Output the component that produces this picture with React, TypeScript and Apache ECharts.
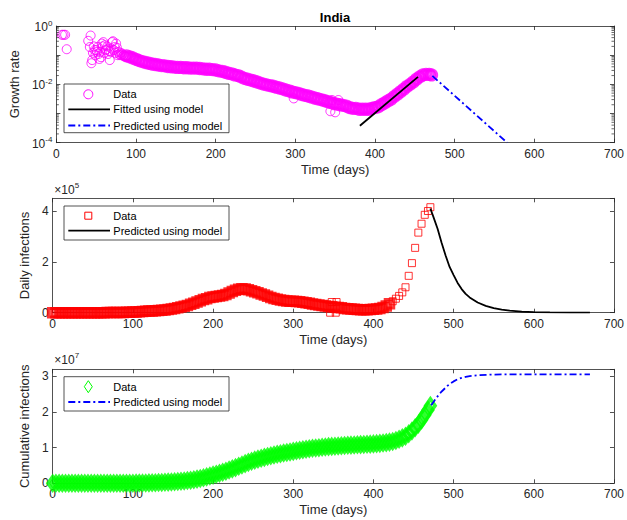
import React, { useEffect, useRef } from 'react';
import * as echarts from 'echarts';

// ---------- data ----------
const days = [
  0, 4, 8, 12, 16, 20, 24, 28, 32, 36, 40, 44, 48, 52, 56, 60, 64, 68, 72, 76,
  80, 84, 88, 92, 96, 100, 104, 108, 112, 116, 120, 124, 128, 132, 136, 140, 144, 148, 152, 156,
  160, 164, 168, 172, 176, 180, 184, 188, 192, 196, 200, 204, 208, 212, 216, 220, 224, 228, 232, 236,
  240, 244, 248, 252, 256, 260, 264, 268, 272, 276, 280, 284, 288, 292, 296, 300, 304, 308, 312, 316,
  320, 324, 328, 332, 336, 340, 344, 348, 352, 356, 360, 364, 368, 372, 376, 380, 384, 388, 392, 396,
  400, 404, 408, 412, 416, 420, 424, 428, 432, 436, 440, 444, 448, 452, 456, 460, 464, 468, 471,
];

const dailyCases = [
  0, 0, 0, 0, 0, 0, 0, 0, 0, 0,
  0, 0, 0, 0, 0, 100, 200, 300, 500, 600,
  800, 1000, 1200, 1600, 2000, 2500, 3000, 3700, 4500, 5500,
  6200, 7000, 8000, 9000, 10000, 11000, 13000, 15000, 17000, 19000,
  22000, 25000, 28000, 33000, 37000, 42000, 47000, 52000, 55000, 60000,
  62000, 64000, 66000, 68000, 72000, 77000, 83000, 88000, 92000, 94000,
  93000, 90000, 86000, 82000, 78000, 74000, 70000, 65000, 60000, 56000,
  53000, 50000, 48000, 46000, 45000, 45000, 44000, 43000, 41000, 39000,
  37000, 34000, 32000, 30000, 28000, 26000, 24000, 23000, 21000, 20000,
  19000, 17000, 16000, 15000, 14000, 13000, 12000, 12000, 12000, 13000,
  14000, 15000, 17000, 20000, 26000, 35000, 45000, 55000, 66000, 80000,
  100000, 145000, 195000, 255000, 315000, 350000, 385000, 400000, 415000,
];

const cumulativeCases = [
  0, 0, 0, 0, 0, 0, 0, 0, 0, 0,
  10, 30, 40, 80, 120, 400, 700, 1200, 2500, 4400,
  7400, 10800, 15000, 20000, 28000, 37000, 49000, 62000, 78000, 96000,
  118000, 145000, 173000, 207000, 246000, 287000, 330000, 380000, 440000, 510000,
  585000, 670000, 770000, 870000, 1000000, 1170000, 1360000, 1570000, 1800000, 2040000,
  2300000, 2550000, 2810000, 3090000, 3390000, 3710000, 4050000, 4400000, 4780000, 5150000,
  5520000, 5880000, 6200000, 6500000, 6780000, 7040000, 7280000, 7520000, 7740000, 7950000,
  8140000, 8320000, 8490000, 8650000, 8810000, 8970000, 9130000, 9290000, 9440000, 9570000,
  9700000, 9830000, 9930000, 10000000, 10100000, 10200000, 10290000, 10360000, 10420000, 10480000,
  10540000, 10600000, 10660000, 10710000, 10770000, 10820000, 10860000, 10900000, 10940000, 10990000,
  11060000, 11130000, 11210000, 11300000, 11420000, 11560000, 11750000, 12000000, 12350000, 12750000,
  13200000, 13900000, 14700000, 15600000, 16600000, 17800000, 19200000, 20600000, 21800000,
];

// growth rate: main band from day 88 on (same day grid)
const growthBandDays = days.slice(22);
const growthBandRates = [
  0.095, 0.088, 0.08, 0.072, 0.065, 0.06, 0.056, 0.053, 0.05, 0.048,
  0.046, 0.044, 0.043, 0.041, 0.04, 0.039, 0.038, 0.038, 0.037, 0.037,
  0.036, 0.036, 0.036, 0.035, 0.034, 0.033, 0.033, 0.032, 0.031, 0.029,
  0.028, 0.026, 0.024, 0.023, 0.021, 0.02, 0.018, 0.016, 0.015, 0.014,
  0.013, 0.012, 0.011, 0.0102, 0.0096, 0.0091, 0.0086, 0.008, 0.0075, 0.007,
  0.0064, 0.006, 0.0055, 0.0052, 0.0049, 0.0045, 0.0042, 0.004, 0.0037, 0.0034,
  0.0032, 0.003, 0.0028, 0.0026, 0.0024, 0.0022, 0.0021, 0.002, 0.0019, 0.0018,
  0.0016, 0.0015, 0.0015, 0.0014, 0.0014, 0.0014, 0.0014, 0.0015, 0.0016, 0.0017,
  0.002, 0.0023, 0.0027, 0.0031, 0.0038, 0.0046, 0.0056, 0.0068, 0.0084, 0.01,
  0.012, 0.015, 0.018, 0.021, 0.022, 0.022, 0.021,
];
// early scattered growth-rate points
const growthEarlyDays = [
  7, 9, 11, 13, 40, 42, 43, 44, 45, 46, 47, 48, 49, 50, 51, 52, 53, 54, 55, 56,
  57, 58, 59, 60, 61, 62, 63, 64, 65, 66, 67, 68, 69, 70, 71, 72, 73, 74, 75, 76,
  77, 78, 79, 80, 81, 82, 83, 84, 85, 86, 87,
];
const growthEarlyRates = [
  0.5, 0.5, 0.5, 0.16, 0.31, 0.19, 0.47, 0.053, 0.068, 0.12, 0.2, 0.15, 0.1, 0.15, 0.13, 0.19, 0.11, 0.074, 0.13, 0.085,
  0.25, 0.2, 0.28, 0.12, 0.22, 0.15, 0.16, 0.2, 0.11, 0.14, 0.068, 0.13, 0.17, 0.28, 0.3, 0.15, 0.19, 0.12, 0.25, 0.18,
  0.1, 0.13, 0.11, 0.1, 0.12, 0.1, 0.11, 0.095, 0.1, 0.09, 0.09,
];
const growthOutlierDays = [298, 344, 346, 350, 354];
const growthOutlierRates = [0.0033, 0.0012, 0.0029, 0.0011, 0.0029];

const dailyOutlierDays = [346, 348, 353, 354];
const dailyOutlierCases = [0, 42000, 0, 42000];

const fittedDays = [381, 454];
const fittedRates = [0.00038, 0.018];
const predictedRateDays = [472, 566];
const predictedRates = [0.0195, 0.0001];

const predictedDailyDays = [471, 475, 480, 485, 490, 495, 500, 505, 510, 515, 520, 530, 540, 550, 560, 570, 585, 600, 620, 645, 670];
const predictedDailyCases = [410000, 375000, 330000, 275000, 225000, 180000, 148000, 117000, 93000, 74000, 60000, 40000, 27000, 18000, 12000, 8000, 4500, 2500, 1200, 500, 200];

const predictedCumDays = [472, 476, 480, 484, 488, 492, 496, 500, 505, 510, 515, 520, 530, 545, 560, 600, 670];
const predictedCumCases = [21900000, 23200000, 24400000, 25500000, 26400000, 27300000, 28000000, 28600000, 29200000, 29600000, 29900000, 30100000, 30350000, 30500000, 30550000, 30600000, 30600000];

const logDecades = [0.0001, 0.001, 0.01, 0.1];
const minorMultipliers = [2, 3, 4, 5, 6, 7, 8, 9];

// ---------- style ----------
const FONT = '"Liberation Sans", Arial, Helvetica, sans-serif';
const INK = '#262626';
const GRID_LEFT = 52.7;
const GRID_W = 565;
const GRIDS = [
  { top: 26, height: 116.7 },
  { top: 198.3, height: 114.4 },
  { top: 369.3, height: 114 },
];
const DAILY_RISE_START = 424; // from here on the daily markers stand apart

const pairs = (xs: number[], ys: number[]) => xs.map((x, i) => [x, ys[i]]);

const axisLine = { show: true, onZero: false, lineStyle: { color: INK, width: 0.8 } };
const axisTick = { show: true, inside: true, length: 4, lineStyle: { color: INK, width: 0.8 } };

function makeXAxes(gridIndex: number) {
  const base = {
    type: 'value', gridIndex, min: 0, max: 700, interval: 100,
    axisLine, axisTick, splitLine: { show: false },
  };
  return [
    {
      ...base, position: 'bottom',
      axisLabel: { color: INK, fontSize: 12, fontFamily: FONT, margin: 5 },
      name: 'Time (days)', nameLocation: 'middle', nameGap: 20,
      nameTextStyle: { color: INK, fontSize: 13, fontFamily: FONT },
    },
    { ...base, position: 'top', axisLabel: { show: false } },
  ];
}

function makeYAxes(gridIndex: number, extra: any, name: string, nameGap: number) {
  const base = {
    gridIndex, axisLine, axisTick, splitLine: { show: false }, ...extra,
  };
  return [
    {
      ...base, position: 'left',
      axisLabel: { color: INK, fontSize: 12, fontFamily: FONT, margin: 4, showMaxLabel: false, ...(extra.axisLabel || {}) },
      name, nameLocation: 'middle', nameGap, nameRotate: 90,
      nameTextStyle: { color: INK, fontSize: 13, fontFamily: FONT },
    },
    { ...base, position: 'right', axisLabel: { show: false } },
  ];
}

const logY = {
  type: 'log', logBase: 10, min: 0.0001, max: 1,
  axisLabel: {
    showMaxLabel: true,
    formatter: (v: number) => {
      const e = Math.round(Math.log10(v));
      return e % 2 === 0 ? `{b|10}{s|${e}}` : '';
    },
    rich: {
      b: { fontSize: 12, fontFamily: FONT, color: INK, lineHeight: 14, verticalAlign: 'bottom' },
      s: { fontSize: 8, fontFamily: FONT, color: INK, lineHeight: 14, verticalAlign: 'top' },
    },
  },
};
const dailyY = {
  type: 'value', min: 0, max: 450000, interval: 200000,
  axisLabel: { formatter: (v: number) => String(Math.round(v / 100000)) },
};
const cumY = {
  type: 'value', min: 0, max: 32000000, interval: 10000000,
  axisLabel: { formatter: (v: number) => String(Math.round(v / 10000000)) },
};

function legendBox(x: number, y: number, h: number) {
  return { type: 'rect', z: 100, shape: { x, y, width: 165, height: h }, style: { fill: '#fff', stroke: INK, lineWidth: 0.8 } };
}
function legendText(y: number, text: string) {
  return {
    type: 'text', z: 101, x: 113.3, y,
    style: { text, fontSize: 11, fontFamily: FONT, fill: '#000', align: 'left', verticalAlign: 'middle', textAlign: 'left', textVerticalAlign: 'middle' },
  };
}
function legendLine(y: number, color: string, dash: any) {
  return {
    type: 'line', z: 101, shape: { x1: 68.3, y1: y, x2: 110, y2: y },
    style: { stroke: color, lineWidth: 1.8, lineDash: dash },
  };
}
function expLabel(y: number, exp: string) {
  return {
    type: 'text', z: 101, x: 54.3, y,
    style: {
      text: `{b|×10}{s|${exp}}`, fontFamily: FONT, fill: INK,
      align: 'left', verticalAlign: 'top', textAlign: 'left', textVerticalAlign: 'top',
      rich: {
        b: { fontSize: 12, fontFamily: FONT, fill: INK, color: INK, lineHeight: 14, verticalAlign: 'bottom' },
        s: { fontSize: 8, fontFamily: FONT, fill: INK, color: INK, lineHeight: 14, verticalAlign: 'top' },
      },
    },
  };
}

const DASH_DOT = [7, 3, 2, 3];
const HOLLOW = 'rgba(0,0,0,0)';

export default function App() {
  const ref = useRef<HTMLDivElement>(null);

  useEffect(() => {
    if (!ref.current) return;
    const chart = echarts.init(ref.current, undefined, { renderer: 'svg' });

    const minorTickValues = logDecades.flatMap((d) => minorMultipliers.map((m) => m * d));
    const dailyAll = pairs(days, dailyCases);

    const option: any = {
      animation: false,
      backgroundColor: '#fff',
      title: {
        text: 'India', left: 335, top: 10.5, padding: 0, textAlign: 'center',
        textStyle: { fontSize: 13, fontWeight: 'bold', color: '#000', fontFamily: FONT },
      },
      grid: GRIDS.map((g) => ({ left: GRID_LEFT, width: GRID_W, top: g.top, height: g.height, containLabel: false })),
      xAxis: [...makeXAxes(0), ...makeXAxes(1), ...makeXAxes(2)],
      yAxis: [
        ...makeYAxes(0, logY, 'Growth rate', 31),
        ...makeYAxes(1, dailyY, 'Daily infections', 14.5),
        ...makeYAxes(2, cumY, 'Cumulative infections', 15),
      ],
      series: [
        {
          name: 'Data', type: 'scatter', xAxisIndex: 0, yAxisIndex: 0,
          symbol: 'circle', symbolSize: 9,
          itemStyle: { color: HOLLOW, borderColor: '#FF00FF', borderWidth: 1 },
          data: [...pairs(growthEarlyDays, growthEarlyRates), ...pairs(growthOutlierDays, growthOutlierRates)],
        },
        {
          name: 'Data', type: 'scatter', xAxisIndex: 0, yAxisIndex: 0,
          symbol: 'circle', symbolSize: 10,
          itemStyle: { color: HOLLOW, borderColor: '#FF00FF', borderWidth: 3.2 },
          data: pairs(growthBandDays, growthBandRates),
        },
        {
          name: 'Fitted using model', type: 'line', xAxisIndex: 0, yAxisIndex: 0,
          symbol: 'none', lineStyle: { color: '#000', width: 1.8 },
          data: pairs(fittedDays, fittedRates), z: 4,
        },
        {
          name: 'Predicted using model', type: 'line', xAxisIndex: 0, yAxisIndex: 0,
          symbol: 'none', lineStyle: { color: '#0000FF', width: 1.8, type: DASH_DOT },
          data: pairs(predictedRateDays, predictedRates), z: 4,
        },
        {
          name: 'minor ticks', type: 'custom', coordinateSystem: 'cartesian2d', xAxisIndex: 0, yAxisIndex: 0,
          silent: true, clip: false, z: 5,
          data: minorTickValues.map((v) => [0, v]),
          renderItem: (_p: any, api: any) => {
            const v = api.value(1);
            const l = api.coord([0, v]);
            const r = api.coord([700, v]);
            const st = { stroke: INK, lineWidth: 0.7 };
            return {
              type: 'group',
              children: [
                { type: 'line', shape: { x1: l[0], y1: l[1], x2: l[0] + 2.5, y2: l[1] }, style: st },
                { type: 'line', shape: { x1: r[0] - 2.5, y1: r[1], x2: r[0], y2: r[1] }, style: st },
              ],
            };
          },
        },
        {
          name: 'Data', type: 'scatter', xAxisIndex: 2, yAxisIndex: 2,
          symbol: 'rect', symbolSize: 8.5,
          itemStyle: { color: HOLLOW, borderColor: '#FF0000', borderWidth: 3 },
          data: dailyAll.filter((d) => d[0] < DAILY_RISE_START),
        },
        {
          name: 'Data', type: 'scatter', xAxisIndex: 2, yAxisIndex: 2,
          symbol: 'rect', symbolSize: 7,
          itemStyle: { color: HOLLOW, borderColor: '#FF0000', borderWidth: 1 },
          data: [...dailyAll.filter((d) => d[0] >= DAILY_RISE_START), ...pairs(dailyOutlierDays, dailyOutlierCases)],
        },
        {
          name: 'Predicted using model', type: 'line', xAxisIndex: 2, yAxisIndex: 2,
          symbol: 'none', lineStyle: { color: '#000', width: 1.8 },
          data: pairs(predictedDailyDays, predictedDailyCases), z: 4,
        },
        {
          name: 'Data', type: 'scatter', xAxisIndex: 4, yAxisIndex: 4,
          symbol: 'diamond', symbolSize: [9.5, 13.5],
          itemStyle: { color: HOLLOW, borderColor: '#00FF00', borderWidth: 3.6 },
          data: pairs(days, cumulativeCases),
        },
        {
          name: 'Predicted using model', type: 'line', xAxisIndex: 4, yAxisIndex: 4,
          symbol: 'none', lineStyle: { color: '#0000FF', width: 1.8, type: DASH_DOT },
          data: pairs(predictedCumDays, predictedCumCases), z: 4,
        },
      ],
      graphic: {
        elements: [
          // top legend
          legendBox(64, 84, 48.7),
          { type: 'circle', z: 101, shape: { cx: 88.3, cy: 94.3, r: 4.5 }, style: { fill: 'none', stroke: '#FF00FF', lineWidth: 1 } },
          legendText(94.3, 'Data'),
          legendLine(109.3, '#000', null),
          legendText(109.3, 'Fitted using model'),
          legendLine(125.5, '#0000FF', DASH_DOT),
          legendText(125.5, 'Predicted using model'),
          // middle legend
          legendBox(64, 206, 34),
          { type: 'rect', z: 101, shape: { x: 84.8, y: 212.2, width: 7, height: 7 }, style: { fill: 'none', stroke: '#FF0000', lineWidth: 1 } },
          legendText(215.7, 'Data'),
          legendLine(230.7, '#000', null),
          legendText(230.7, 'Predicted using model'),
          // bottom legend
          legendBox(64, 376.7, 34.3),
          { type: 'polygon', z: 101, shape: { points: [[88.3, 380.7], [92.3, 386.7], [88.3, 392.7], [84.3, 386.7]] }, style: { fill: 'none', stroke: '#00FF00', lineWidth: 1 } },
          legendText(386.7, 'Data'),
          legendLine(402, '#0000FF', DASH_DOT),
          legendText(402, 'Predicted using model'),
          // exponent labels
          expLabel(181.5, '5'),
          expLabel(351.5, '7'),
        ],
      },
    };

    chart.setOption(option);
    return () => chart.dispose();
  }, []);

  return (
    <div
      ref={ref}
      style={{ position: 'fixed', left: 0, top: 0, width: 627, height: 520, background: '#fff' }}
    />
  );
}
